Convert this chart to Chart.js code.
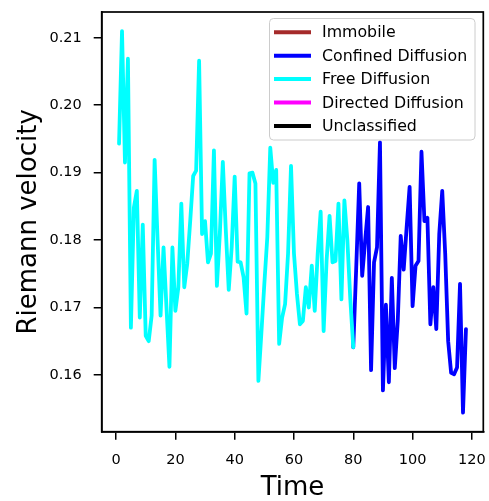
<!DOCTYPE html>
<html>
<head>
<meta charset="utf-8">
<script src="https://cdn.jsdelivr.net/npm/chart.js@4/dist/chart.umd.min.js"></script>
<style>
  html, body { margin: 0; padding: 0; background: #fff; }
  #wrap { width: 489px; height: 501px; }
</style>
</head>
<body>
<div id="wrap"><canvas id="c" width="489" height="501"></canvas></div>
<script>
// ---- Data ----
const legendLabels = ["Immobile", "Confined Diffusion", "Free Diffusion", "Directed Diffusion", "Unclassified"];
const legendColors = ["#a52a2a", "#0000ff", "#00ffff", "#ff00ff", "#000000"];

const freeStart = 1;
const freeValues = [
  0.1943, 0.2110, 0.1915, 0.2069, 0.1670, 0.1848, 0.1873, 0.1685, 0.1823, 0.1658,
  0.1650, 0.1688, 0.1919, 0.1800, 0.1688, 0.1789, 0.1700, 0.1612, 0.1789, 0.1695,
  0.1730, 0.1854, 0.1730, 0.1765, 0.1828, 0.1895, 0.1903, 0.2066, 0.1809, 0.1828,
  0.1767, 0.1780, 0.1933, 0.1732, 0.1810, 0.1916, 0.1815, 0.1726, 0.1790, 0.1894,
  0.1768, 0.1767, 0.1745, 0.1691, 0.1899, 0.1900, 0.1884, 0.1591, 0.1662, 0.1735,
  0.1804, 0.1937, 0.1885, 0.1904, 0.1646, 0.1685, 0.1705, 0.1780, 0.1910, 0.1780,
  0.1720, 0.1675, 0.1680, 0.1730, 0.1700, 0.1762, 0.1695, 0.1780, 0.1842, 0.1665,
  0.1770, 0.1836, 0.1767, 0.1769, 0.1854, 0.1712, 0.1859, 0.1800, 0.1712, 0.1641
];

const confinedStart = 80;
const confinedValues = [
  0.1641, 0.1760, 0.1884, 0.1747, 0.1799, 0.1849, 0.1607, 0.1767, 0.1789, 0.1945,
  0.1577, 0.1704, 0.1589, 0.1744, 0.1610, 0.1680, 0.1806, 0.1756, 0.1819, 0.1879,
  0.1702, 0.1762, 0.1769, 0.1931, 0.1828, 0.1833, 0.1675, 0.1730, 0.1668, 0.1809,
  0.1873, 0.1780, 0.1650, 0.1603, 0.1601, 0.1611, 0.1735, 0.1544, 0.1668
];

const xTicks = [0, 20, 40, 60, 80, 100, 120];
const yTicks = [0.16, 0.17, 0.18, 0.19, 0.20, 0.21];

// ---- Build ----
const toPoints = (start, vals) => vals.map((v, i) => ({ x: start + i, y: v }));
const freePts = toPoints(freeStart, freeValues);
const confPts = toPoints(confinedStart, confinedValues);

const allX = freePts.concat(confPts).map(p => p.x);
const allY = freeValues.concat(confinedValues);
const xmin = Math.min(...allX), xmax = Math.max(...allX);
const ymin = Math.min(...allY), ymax = Math.max(...allY);
const xm = (xmax - xmin) * 0.05, ym = (ymax - ymin) * 0.05;

const FONT = "'DejaVu Sans', sans-serif";

const datasets = [
  { label: legendLabels[0], data: [], borderColor: legendColors[0] },
  { label: legendLabels[2], data: freePts, borderColor: legendColors[2] },
  { label: legendLabels[1], data: confPts, borderColor: legendColors[1] },
  { label: legendLabels[3], data: [], borderColor: legendColors[3] },
  { label: legendLabels[4], data: [], borderColor: legendColors[4] }
].map(d => Object.assign(d, {
  borderWidth: 3.8, pointRadius: 0, tension: 0, fill: false,
  borderJoinStyle: 'round', borderCapStyle: 'round'
}));

const framePlugin = {
  id: 'frame',
  afterDraw(chart) {
    const { ctx, chartArea: a } = chart;
    ctx.save();
    ctx.strokeStyle = '#000';
    ctx.lineWidth = 1.7;
    ctx.strokeRect(a.left, a.top, a.right - a.left, a.bottom - a.top);

    // legend
    const bx = 269.5, by = 18.5, bw = 205.5, bh = 121.5, r = 4;
    ctx.beginPath();
    ctx.moveTo(bx + r, by);
    ctx.lineTo(bx + bw - r, by); ctx.quadraticCurveTo(bx + bw, by, bx + bw, by + r);
    ctx.lineTo(bx + bw, by + bh - r); ctx.quadraticCurveTo(bx + bw, by + bh, bx + bw - r, by + bh);
    ctx.lineTo(bx + r, by + bh); ctx.quadraticCurveTo(bx, by + bh, bx, by + bh - r);
    ctx.lineTo(bx, by + r); ctx.quadraticCurveTo(bx, by, bx + r, by);
    ctx.closePath();
    ctx.fillStyle = 'rgba(255,255,255,0.8)';
    ctx.fill();
    ctx.strokeStyle = '#cccccc';
    ctx.lineWidth = 1;
    ctx.stroke();

    ctx.font = "15.8px " + FONT;
    ctx.textBaseline = 'middle';
    ctx.textAlign = 'left';
    const rowY0 = 32.3, rowDy = 23.4;
    legendLabels.forEach((lab, i) => {
      const y = rowY0 + i * rowDy;
      ctx.strokeStyle = legendColors[i];
      ctx.lineWidth = 4;
      ctx.lineCap = 'butt';
      ctx.beginPath();
      ctx.moveTo(274, y); ctx.lineTo(311, y);
      ctx.stroke();
      ctx.fillStyle = '#000';
      ctx.fillText(lab, 322, y + 1);
    });
    ctx.restore();
  }
};

const zeroPad = s => { s.paddingTop = 0; s.paddingBottom = 0; s.paddingLeft = 0; s.paddingRight = 0; };

new Chart(document.getElementById('c'), {
  type: 'line',
  data: { datasets },
  options: {
    responsive: false,
    animation: false,
    devicePixelRatio: 1,
    layout: { padding: { top: 12, right: 5.7, left: 0, bottom: 0 } },
    plugins: { legend: { display: false }, tooltip: { enabled: false } },
    scales: {
      x: {
        type: 'linear',
        min: xmin - xm, max: xmax + xm,
        afterBuildTicks: s => { s.ticks = xTicks.map(v => ({ value: v })); },
        afterFit: s => { s.height = 501 - 431.7; zeroPad(s); },
        grid: { display: true, drawOnChartArea: false, drawTicks: true, tickLength: 8, color: '#000', lineWidth: 1.5 },
        border: { display: true, color: '#000', width: 1.7 },
        ticks: { color: '#000', font: { family: FONT, size: 14.5 }, padding: 12, maxRotation: 0, autoSkip: false },
        title: { display: true, text: 'Time', color: '#000', font: { family: FONT, size: 26 }, padding: { top: 4, bottom: -3 } }
      },
      y: {
        type: 'linear',
        min: ymin - ym, max: ymax + ym,
        afterBuildTicks: s => { s.ticks = yTicks.map(v => ({ value: v })); },
        afterFit: s => { s.width = 101.7; zeroPad(s); },
        grid: { display: true, drawOnChartArea: false, drawTicks: true, tickLength: 8, color: '#000', lineWidth: 1.5 },
        border: { display: true, color: '#000', width: 1.7 },
        ticks: { color: '#000', font: { family: FONT, size: 14.5 }, padding: 12, autoSkip: false, callback: v => v.toFixed(2) },
        title: { display: true, text: 'Riemann velocity', color: '#000', font: { family: FONT, size: 26 }, padding: { top: 14, bottom: 4 } }
      }
    }
  },
  plugins: [framePlugin]
});
</script>
</body>
</html>
